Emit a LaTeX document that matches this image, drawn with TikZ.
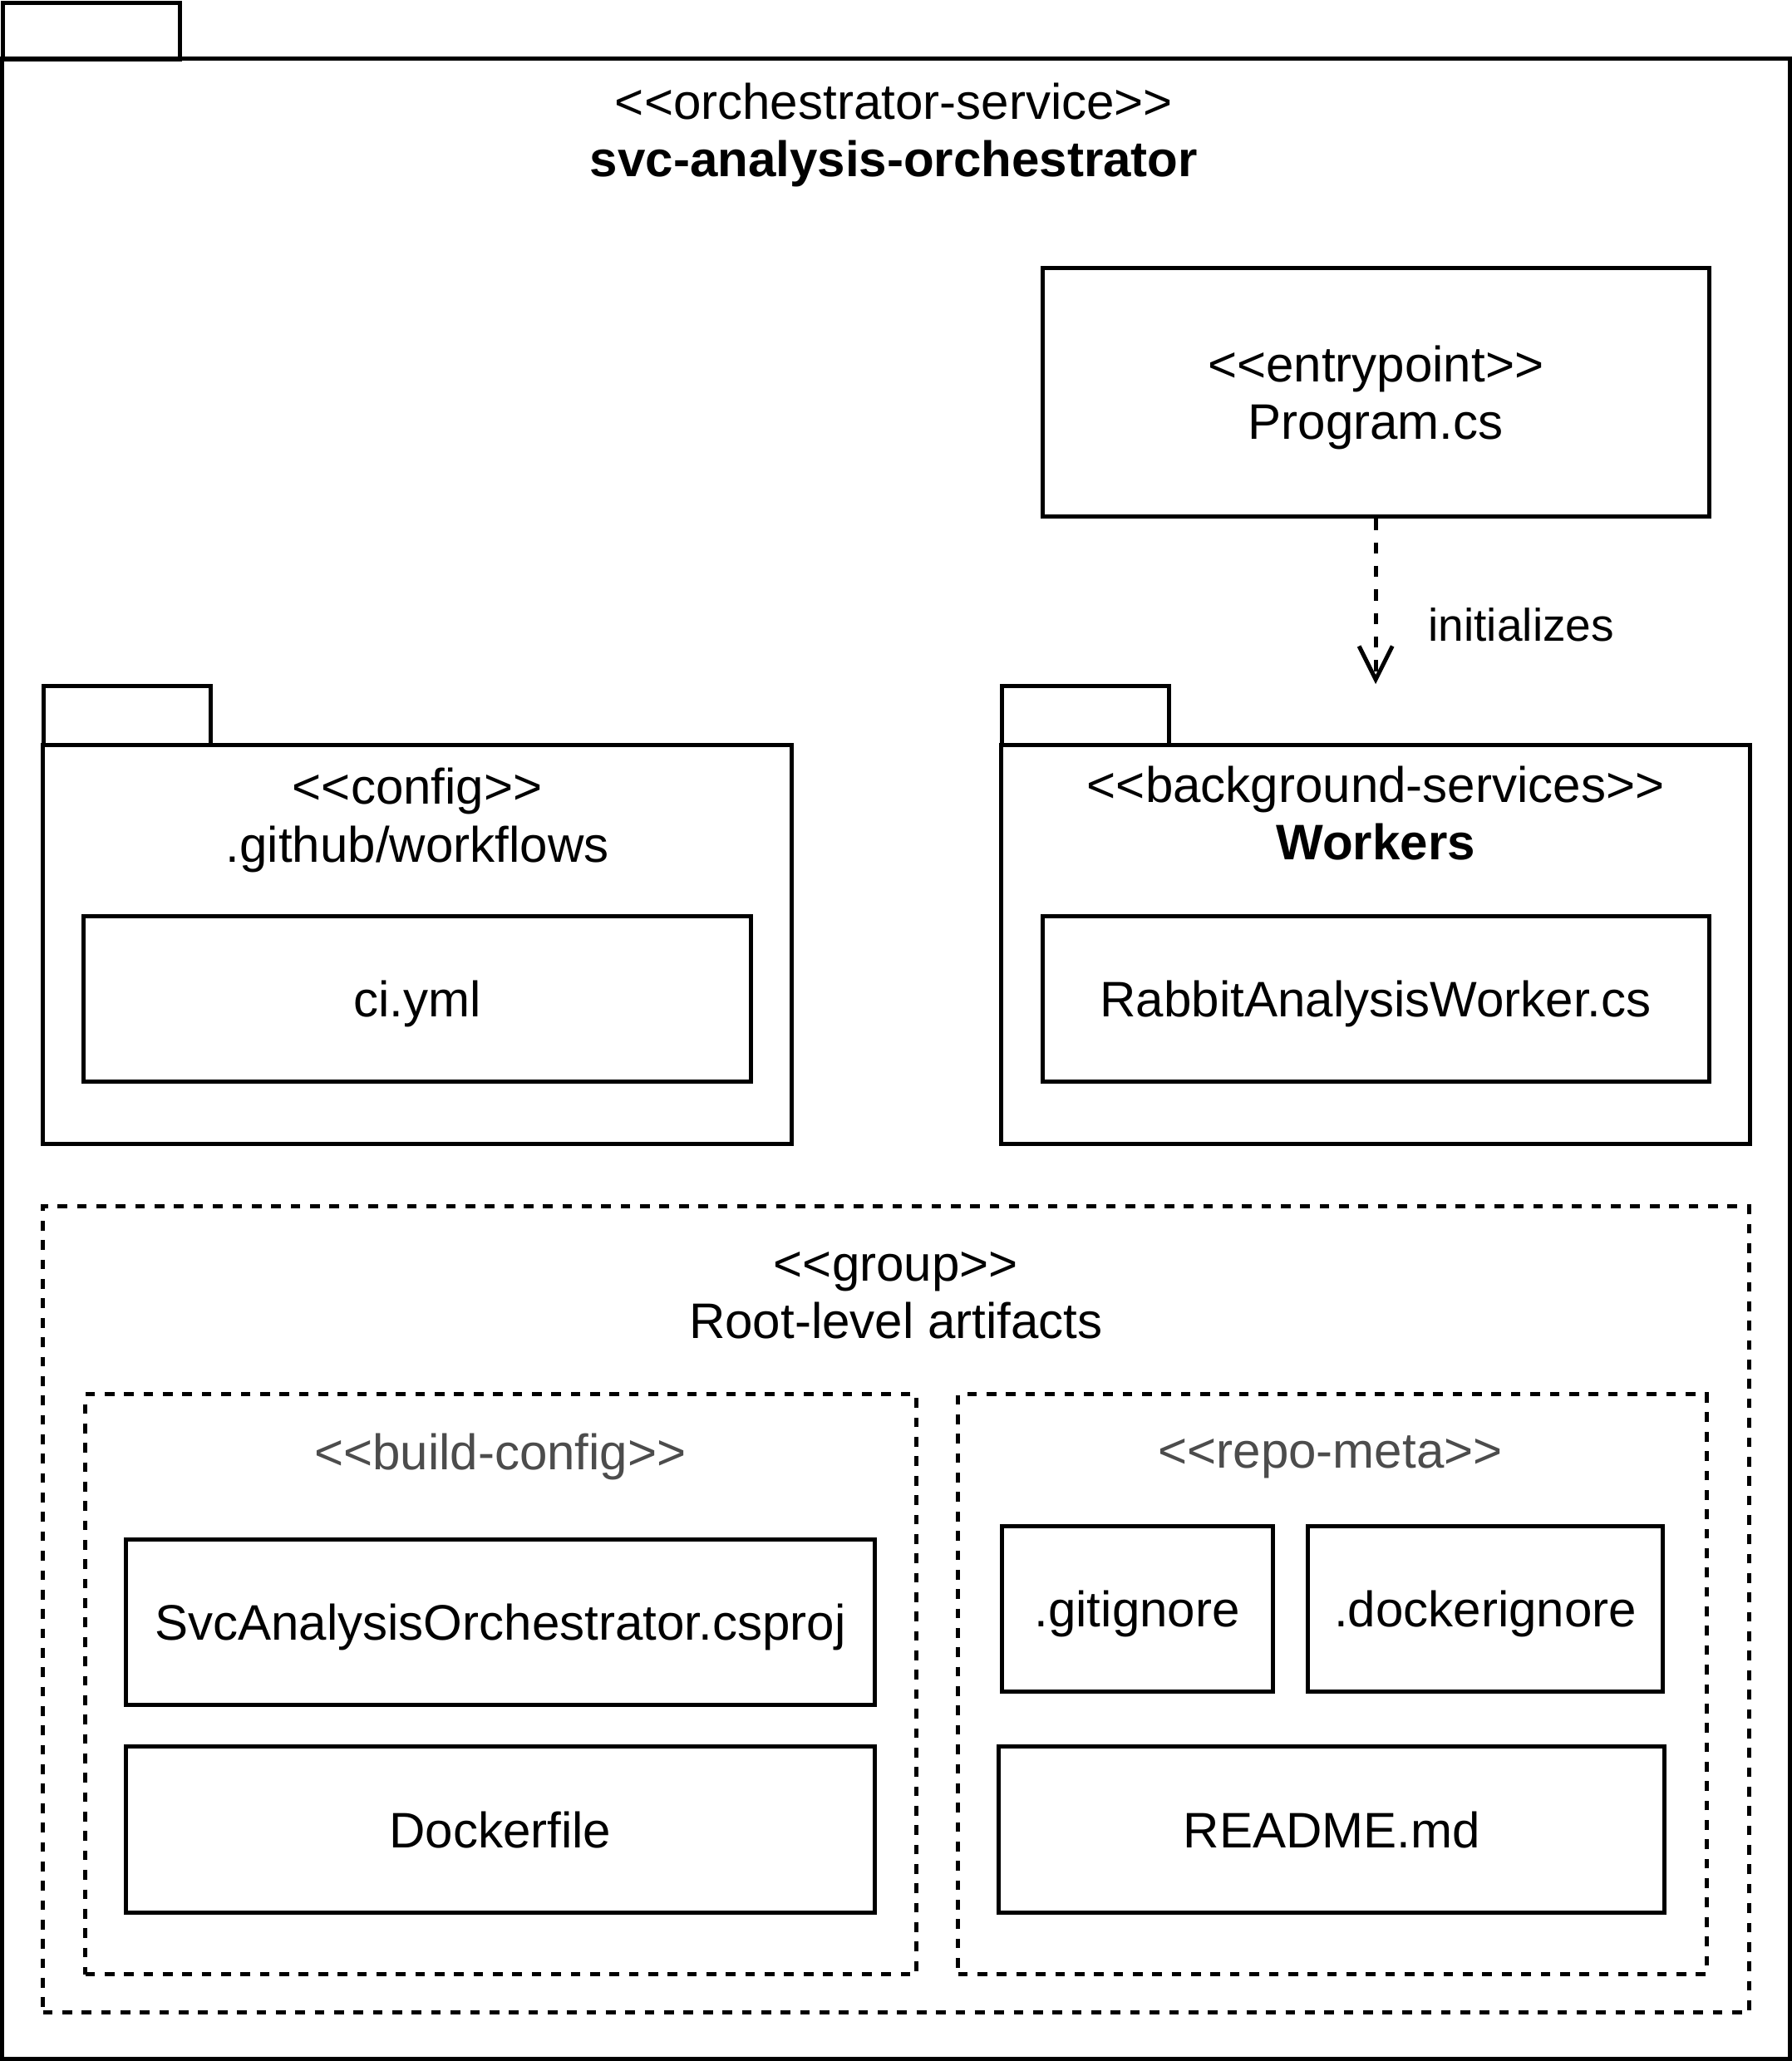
\documentclass[tikz,border=0pt]{standalone}
\usepackage{fontspec}
\setmainfont{Liberation Sans}
\usetikzlibrary{arrows.meta}
\newcommand{\stereo}[1]{<{}<#1>{}>}

\begin{document}
\begin{tikzpicture}[x=0.01cm, y=-0.01cm]
    \tikzset{txt/.style = {font=\fontsize{10.8}{12.5}\selectfont, align=center, inner sep=0pt}}
    \tikzset{lbl/.style = {txt, yshift=-1.3pt}}
    \tikzset{filebox/.style = {txt, text depth=0pt, shape=rectangle, draw, line width=0.9pt, minimum height=1.26cm}}
    \tikzset{pkg/.style = {shape=rectangle, draw, line width=0.9pt, inner sep=0pt}}
    \tikzset{grp/.style = {shape=rectangle, draw, line width=0.9pt, dash pattern=on 2.1pt off 2.1pt, inner sep=0pt}}
    \tikzset{dep/.style = {draw, line width=0.9pt, dash pattern=on 2.4pt off 2.7pt, -{Straight Barb[length=7.2pt, width=7.2pt]}}}

    \useasboundingbox (0,0) rectangle (1363,1568);

    % packages
    \node[pkg, minimum width=1.35cm, minimum height=0.43cm] (svctab) at (69.5,23.5) {};
    \node[pkg, minimum width=13.59cm, minimum height=15.21cm] (svc) at (681.5,805.5) {};
    \node[lbl] (svclbl) at (680,98) {\stereo{orchestrator-service}\\\textbf{svc-analysis-orchestrator}};

    \node[pkg, minimum width=1.27cm, minimum height=0.45cm] (cfgtab) at (96.5,544.5) {};
    \node[pkg, minimum width=5.69cm, minimum height=3.03cm] (cfg) at (317.5,718.5) {};
    \node[lbl] (cfglbl) at (317.5,619.5) {\stereo{config}\\.github/workflows};

    \node[pkg, minimum width=1.27cm, minimum height=0.45cm] (wrktab) at (825.5,544.5) {};
    \node[pkg, minimum width=5.69cm, minimum height=3.03cm] (wrk) at (1046.5,718.5) {};
    \node[lbl] (wrklbl) at (1046.5,614) {\stereo{background-services}\\\textbf{Workers}};

    % groups
    \node[grp, minimum width=12.97cm, minimum height=6.13cm] (root) at (681.5,1224.5) {};
    \node[lbl] (rootlbl) at (681.5,981) {\stereo{group}\\Root-level artifacts};

    \node[grp, minimum width=6.32cm, minimum height=4.41cm] (build) at (381,1281.5) {};
    \node[lbl, text=black!70] (buildlbl) at (380.5,1104) {\stereo{build-config}};

    \node[grp, minimum width=5.69cm, minimum height=4.41cm] (repo) at (1013.5,1281.5) {};
    \node[lbl, text=black!70] (repolbl) at (1012,1104) {\stereo{repo-meta}};

    % files
    \node[filebox, minimum width=5.07cm, minimum height=1.89cm] (prog) at (1046.5,298.5) {\stereo{entrypoint}\\Program.cs};
    \node[filebox, minimum width=5.07cm] (ci) at (317.5,760) {ci.yml};
    \node[filebox, minimum width=5.07cm] (rabbit) at (1046.5,760) {RabbitAnalysisWorker.cs};
    \node[filebox, minimum width=5.69cm] (csproj) at (380.5,1234) {SvcAnalysisOrchestrator.csproj};
    \node[filebox, minimum width=5.69cm] (docker) at (380.5,1392) {Dockerfile};
    \node[filebox, minimum width=2.06cm] (gitign) at (865,1224) {.gitignore};
    \node[filebox, minimum width=2.70cm] (dockign) at (1130,1224) {.dockerignore};
    \node[filebox, minimum width=5.06cm] (readme) at (1013,1392) {README.md};

    % edges
    \draw[dep] (prog.south) -- (prog.south |- wrktab.north) node[txt, font=\fontsize{9.9}{12}\selectfont, anchor=west, pos=0.64, xshift=0.385cm] (initlbl) {initializes};
\end{tikzpicture}
\end{document}
